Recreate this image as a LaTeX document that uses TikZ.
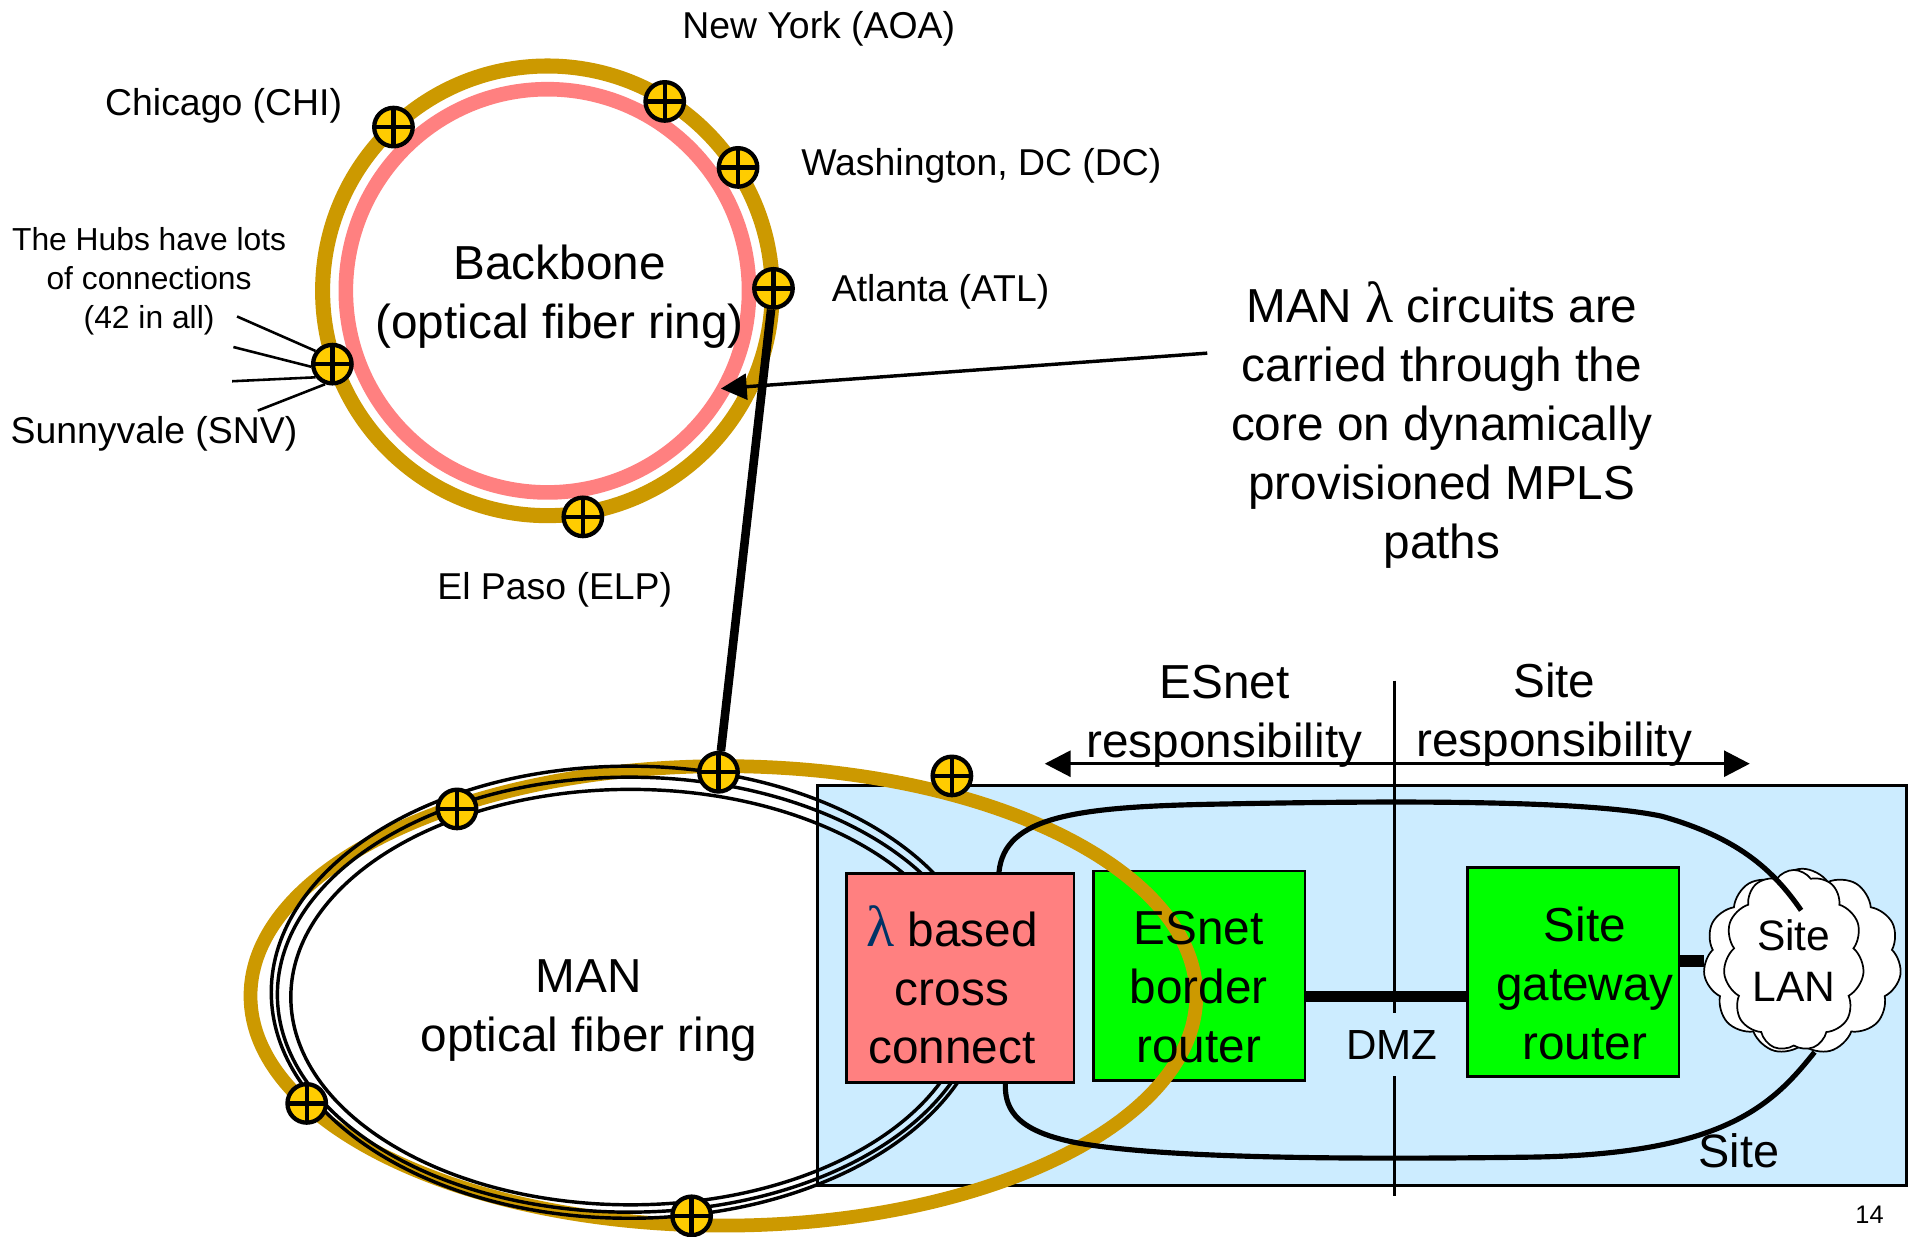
\documentclass[tikz,border=0pt]{standalone}
\usepackage{fontspec}
\setmainfont{Liberation Sans}
\newfontfamily\lamfont{Liberation Serif}
\usepackage{tikz}
\usetikzlibrary{positioning,arrows.meta,shapes.symbols}
\definecolor{ringgold}{RGB}{204,153,0}
\definecolor{ringpink}{RGB}{255,128,128}
\definecolor{hubyellow}{RGB}{255,204,0}
\definecolor{siteblue}{RGB}{204,236,255}
\definecolor{boxgreen}{RGB}{0,255,0}
\definecolor{lamblue}{RGB}{0,51,102}
\newcommand{\bigtxt}{\fontsize{11.1}{13.7}\selectfont}
\newcommand{\labtxt}{\fontsize{8.7}{10.4}\selectfont}
\newcommand{\lamsym}{{\lamfont\fontsize{13.5}{13.7}\selectfont λ}}
\tikzset{
	hub/.style={circle, draw=black, line width=1pt, fill=hubyellow, inner sep=0pt, minimum size=0.315cm,
		path picture={\draw[line width=1pt] (path picture bounding box.north) -- (path picture bounding box.south)
			(path picture bounding box.west) -- (path picture bounding box.east);}},
	goldring/.style={draw=ringgold, line width=3.5pt},
	pinkring/.style={draw=ringpink, line width=3.4pt},
	fiber/.style={draw=black, line width=0.8pt},
	routerbox/.style={draw=black, line width=0.6pt, minimum width=1.73cm, minimum height=1.71cm, inner sep=0pt},
	bigtext/.style={font=\bigtxt, align=center, inner sep=0pt},
	citylabel/.style={font=\labtxt, inner sep=1pt},
	spoke/.style={draw=black, line width=0.6pt},
	corelink/.style={draw=black, line width=2pt},
	thickbar/.style={draw=black, line width=2.7pt},
	siteloop/.style={draw=black, line width=1.2pt},
	thinline/.style={draw=black, line width=0.7pt},
	callout/.style={draw=black, line width=0.8pt, -{Triangle[length=6pt,width=6pt]}},
	resparrow/.style={draw=black, line width=0.8pt, {Triangle[length=6pt,width=6pt]}-{Triangle[length=6pt,width=6pt]}},
	lancloud/.style={cloud, cloud puffs=11, cloud puff arc=110, cloud ignores aspect, draw=black, line width=0.4pt, fill=white, inner sep=0pt},
}
\begin{document}
\begin{tikzpicture}[x=0.01cm, y=-0.01cm]
    \path[use as bounding box, fill=white] (0,0) rectangle (1568,1012);

    \draw[goldring] (448,238) circle (184);
    \draw[pinkring] (448,238) circle (165);

    \draw[thinline, fill=siteblue] (669,643) rectangle (1560,970);
    \node[routerbox, fill=boxgreen] (esbr) at (981.5,798.5) {};
    \node[routerbox, fill=boxgreen] (sgw) at (1287.5,795.5) {};

    \draw[goldring, line width=3.2pt] (592,815) ellipse [x radius=387, y radius=188];
    \draw[fiber] (515,812) ellipse [x radius=293, y radius=185];
    \draw[fiber] (515,814) ellipse [x radius=288, y radius=178];
    \draw[fiber] (516,816) ellipse [x radius=278, y radius=170];

    \node[routerbox, fill=ringpink, minimum width=1.86cm] (xc) at (786,800.5) {};
    \node[bigtext] (xctxt) at (779,806) {{\color{lamblue}\lamsym} based\\cross\\connect};
    \node[bigtext] (esbrtxt) at (981,808) {ESnet\\border\\router};
    \node[bigtext] (sgwtxt) at (1297,805) {Site\\gateway\\router};

    \foreach \h/\px/\py in {chi/322/104, aoa/544/83, dc/604/137, atl/633/236, snv/272/298, elp/477/423,
        m1/374/662, m2/588/632, m3/779/635, m4/251/903, m5/566/995}
        \node[hub] (\h) at (\px,\py) {};

    \draw[corelink] (atl) -- (m2);

    \coordinate (sp1) at (194,259);
    \coordinate (sp2) at (191,284);
    \coordinate (sp3) at (190,312);
    \coordinate (sp4) at (211,336);
    \draw[spoke] (sp1) -- (snv.142);
    \draw[spoke] (sp2) -- (snv.187);
    \draw[spoke] (sp3) -- (snv.218);
    \draw[spoke] (sp4) -- (snv.250);

    \coordinate (noteA) at (988,289);
    \coordinate (ringA) at (590,318);
    \draw[callout] (noteA) -- (ringA);

    \node[lancloud, minimum width=1.62cm, minimum height=1.52cm] (lanbg) at (1475,787) {};
    \node[lancloud, minimum width=1.15cm, minimum height=1.48cm, font=\fontsize{9.9}{11.9}\selectfont, align=center] (lan) at (1468,786) {Site\\LAN};
    \draw[thickbar] (esbr.-11) -- (esbr.-11 -| sgw.west);
    \draw[thickbar] (sgw.6) -- (sgw.6 -| lanbg.west);

    \coordinate (lanT) at (1474,745);
    \coordinate (lanB) at (1485,861);
    \draw[siteloop] (xc.70) .. controls (822,668) and (880,660) .. (1000,658)
        .. controls (1150,655) and (1300,655) .. (1360,668)
        .. controls (1420,685) and (1450,710) .. (lanT);
    \draw[siteloop] (lanB) .. controls (1450,905) and (1410,945) .. (1250,947)
        .. controls (1100,949) and (950,948) .. (880,935)
        .. controls (835,926) and (822,910) .. (xc.-67);

    \coordinate (dmzT) at (1141,557);
    \coordinate (dmzB) at (1141,979);
    \draw[thinline] (dmzT) -- (dmzB);
    \node[fill=siteblue, inner sep=4pt, font=\fontsize{9.8}{11}\selectfont] (dmz) at (1139,855) {DMZ};

    \coordinate (respL) at (855,625);
    \coordinate (respR) at (1432,625);
    \draw[resparrow] (respL) -- (respR);
    \node[bigtext] (esresp) at (1002,586) {ESnet\\responsibility};
    \node[bigtext] (siteresp) at (1272,585) {Site\\responsibility};

    \node[bigtext] (bbtxt) at (458,243) {Backbone\\(optical fiber ring)};
    \node[bigtext] (mantxt) at (482,827) {MAN\\optical fiber ring};
    \node[bigtext] (note) at (1180,348) {MAN {\lamfont\fontsize{13.5}{13.7}\selectfont λ} circuits are\\carried through the\\core on dynamically\\provisioned MPLS\\paths};

    \node[citylabel] (nylbl) at (670,24) {New York (AOA)};
    \node[citylabel] (chilbl) at (183,87) {Chicago (CHI)};
    \node[citylabel, right=0.3cm of dc, yshift=0.01cm] (dclbl) {Washington, DC (DC)};
    \node[citylabel, right=0.26cm of atl, yshift=-0.03cm] (atllbl) {Atlanta (ATL)};
    \node[citylabel] (snvlbl) at (126,355) {Sunnyvale (SNV)};
    \node[citylabel] (elplbl) at (454,483) {El Paso (ELP)};
    \node[font=\fontsize{7.4}{9.1}\selectfont, align=center, inner sep=0pt] (hubnote) at (122,230) {The Hubs have lots\\of connections\\(42 in all)};

    \node[font=\fontsize{10.9}{12}\selectfont, inner sep=0pt] (sitelbl) at (1423,942) {Site};
    \node[font=\fontsize{5.9}{7}\selectfont, inner sep=0pt] (pagenum) at (1530,994) {14};
\end{tikzpicture}
\end{document}
